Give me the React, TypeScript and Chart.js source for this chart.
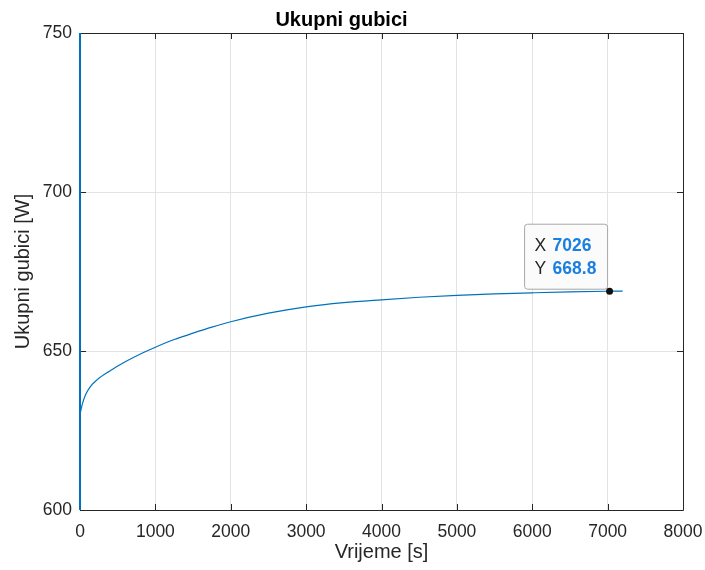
import React, { useEffect, useRef } from 'react';
import { Chart, registerables } from 'chart.js';

Chart.register(...registerables);

// ---- data ----
const timeSeconds = [0, 10, 30, 75, 140, 230, 380, 600, 850, 1000, 1250, 1500, 1750, 2000, 2500, 3000, 3500, 4000, 4500, 5000, 5500, 6000, 6500, 7026, 7200];
const totalLosses = [630.0, 631.2, 633.2, 636.3, 638.9, 641.0, 643.5, 646.6, 649.6, 651.2, 653.6, 655.6, 657.5, 659.2, 661.9, 663.9, 665.2, 666.1, 666.9, 667.5, 667.95, 668.3, 668.6, 668.8, 668.85];
const initialSpikeTime = [0, 0];
const initialSpikeValues = [500, 800];
const xTickValues = [0, 1000, 2000, 3000, 4000, 5000, 6000, 7000, 8000];
const yTickValues = [600, 650, 700, 750];
const datatipX = 7026;
const datatipY = 668.8;
const titleText = 'Ukupni gubici';
const xLabel = 'Vrijeme [s]';
const yLabel = 'Ukupni gubici [W]';

const FONT = "'Liberation Sans', Arial, Helvetica, sans-serif";
const TEXT = '#262626';
const LINE = '#0072BD';

const framePlugin = {
  id: 'matlabFrame',
  beforeDatasetsDraw(chart: any) {
    const { ctx, chartArea: a, scales } = chart;
    ctx.save();
    ctx.strokeStyle = TEXT;
    ctx.lineWidth = 1;
    ctx.beginPath();
    ctx.rect(Math.round(a.left) + 0.5, Math.round(a.top) + 0.5, Math.round(a.right - a.left), Math.round(a.bottom - a.top));
    ctx.stroke();
    const tl = 6;
    ctx.beginPath();
    xTickValues.forEach((v) => {
      const px = Math.round(scales.x.getPixelForValue(v)) + 0.5;
      ctx.moveTo(px, a.bottom);
      ctx.lineTo(px, a.bottom - tl);
      ctx.moveTo(px, a.top);
      ctx.lineTo(px, a.top + tl);
    });
    yTickValues.forEach((v) => {
      const py = Math.round(scales.y.getPixelForValue(v)) + 0.5;
      ctx.moveTo(a.left, py);
      ctx.lineTo(a.left + tl, py);
      ctx.moveTo(a.right, py);
      ctx.lineTo(a.right - tl, py);
    });
    ctx.stroke();
    ctx.restore();
  },
};

const datatipPlugin = {
  id: 'datatip',
  afterDatasetsDraw(chart: any) {
    const { ctx, scales } = chart;
    const px = scales.x.getPixelForValue(datatipX);
    const py = scales.y.getPixelForValue(datatipY);
    const w = 83;
    const h = 65;
    const right = px - 2;
    const bottom = py - 2;
    const left = right - w;
    const top = bottom - h;
    ctx.save();
    ctx.beginPath();
    const r = 3;
    ctx.moveTo(left + r, top);
    ctx.lineTo(right - r, top);
    ctx.quadraticCurveTo(right, top, right, top + r);
    ctx.lineTo(right, bottom - r);
    ctx.quadraticCurveTo(right, bottom, right - r, bottom);
    ctx.lineTo(left + r, bottom);
    ctx.quadraticCurveTo(left, bottom, left, bottom - r);
    ctx.lineTo(left, top + r);
    ctx.quadraticCurveTo(left, top, left + r, top);
    ctx.closePath();
    ctx.fillStyle = '#fbfbfb';
    ctx.fill();
    ctx.strokeStyle = '#a8a8a8';
    ctx.lineWidth = 1;
    ctx.stroke();

    ctx.textBaseline = 'middle';
    ctx.textAlign = 'left';
    ctx.font = `17.5px ${FONT}`;
    ctx.fillStyle = TEXT;
    ctx.fillText('X', left + 10, top + 22);
    ctx.fillText('Y', left + 10, top + 44.5);
    ctx.font = `bold 17.5px ${FONT}`;
    ctx.fillStyle = '#1a7fe0';
    ctx.fillText(String(datatipX), left + 28, top + 22);
    ctx.fillText(String(datatipY), left + 28, top + 44.5);

    ctx.beginPath();
    ctx.arc(px, py, 3.5, 0, Math.PI * 2);
    ctx.fillStyle = '#111';
    ctx.fill();
    ctx.restore();
  },
};

export default function App() {
  const ref = useRef<HTMLCanvasElement | null>(null);

  useEffect(() => {
    if (!ref.current) return;
    const curve = timeSeconds.map((t, i) => ({ x: t, y: totalLosses[i] }));
    const spike = initialSpikeTime.map((t, i) => ({ x: t, y: initialSpikeValues[i] }));
    const chart = new Chart(ref.current, {
      type: 'line',
      data: {
        datasets: [
          {
            data: spike,
            borderColor: LINE,
            borderWidth: 2,
            pointRadius: 0,
            clip: { left: 3, top: 0, right: 0, bottom: 0 } as any,
          },
          {
            data: curve,
            borderColor: LINE,
            borderWidth: 1.2,
            pointRadius: 0,
            cubicInterpolationMode: 'monotone',
          },
        ],
      },
      options: {
        responsive: false,
        animation: false,
        devicePixelRatio: 1,
        layout: { padding: { left: 0, right: 22, top: 0, bottom: 0 } },
        plugins: {
          legend: { display: false },
          tooltip: { enabled: false },
          title: {
            display: true,
            text: titleText,
            color: '#000',
            font: { family: FONT, size: 20, weight: 'bold' },
            padding: { top: 8, bottom: 1 },
          },
        },
        scales: {
          x: {
            type: 'linear',
            min: 0,
            max: 8000,
            afterBuildTicks: (s: any) => {
              s.ticks = xTickValues.map((v) => ({ value: v }));
            },
            afterFit: (s: any) => {
              s.height = 60;
              s.paddingLeft = 0;
              s.paddingRight = 0;
            },
            grid: { color: '#e3e3e3', drawTicks: false },
            border: { display: false },
            ticks: {
              color: TEXT,
              font: { family: FONT, size: 17.5 },
              padding: 12,
              maxRotation: 0,
              autoSkip: false,
              callback: (v: any) => String(v),
            },
            title: {
              display: true,
              text: xLabel,
              color: TEXT,
              font: { family: FONT, size: 20 },
              padding: { top: 0, bottom: 6 },
            },
          },
          y: {
            type: 'linear',
            min: 600,
            max: 750,
            afterBuildTicks: (s: any) => {
              s.ticks = yTickValues.map((v) => ({ value: v }));
            },
            afterFit: (s: any) => {
              s.width = 80;
              s.paddingTop = 0;
              s.paddingBottom = 0;
            },
            grid: { color: '#e3e3e3', drawTicks: false },
            border: { display: false },
            ticks: {
              color: TEXT,
              font: { family: FONT, size: 17.5 },
              padding: 8,
              autoSkip: false,
              callback: (v: any) => String(v),
            },
            title: {
              display: true,
              text: yLabel,
              color: TEXT,
              font: { family: FONT, size: 20 },
              padding: { top: 11, bottom: 0 },
            },
          },
        },
      } as any,
      plugins: [framePlugin, datatipPlugin],
    });
    return () => chart.destroy();
  }, []);

  return (
    <div style={{ position: 'absolute', left: 0, top: 0, background: '#fff' }}>
      <canvas ref={ref} width={705} height={570} style={{ display: 'block' }} />
    </div>
  );
}
